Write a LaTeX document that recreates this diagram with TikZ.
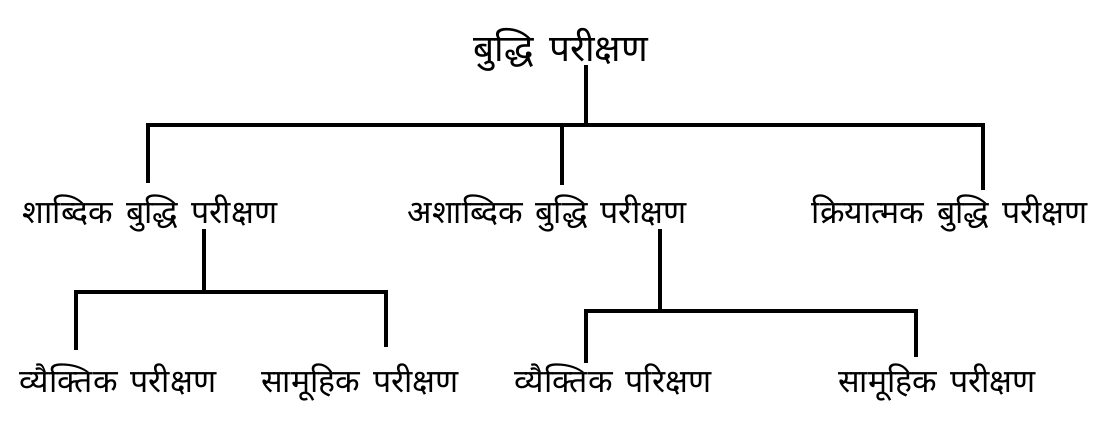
\documentclass[tikz,border=0pt]{standalone}
\usepackage{fontspec}
\newfontfamily\hindi[Script=Devanagari]{Noto Sans}
\newcommand{\rowfont}{\hindi\fontsize{32}{37}\selectfont\spaceskip 13pt\relax}
\newcommand{\topfont}{\hindi\fontsize{37}{43}\selectfont\spaceskip 15pt\relax}
\tikzset{
  lbl/.style={inner sep=2pt, anchor=base, font=\rowfont},
  toplbl/.style={lbl, font=\topfont},
  link/.style={line width=3.8pt, line join=miter}
}
\begin{document}
\begin{tikzpicture}[x=1pt, y=1pt]
  \useasboundingbox (0,0) rectangle (1112,-434);
  \node[toplbl] (root) at (561,-61) {बुद्धि परीक्षण};
  \node[lbl] (shabdik) at (150,-223) {शाब्दिक बुद्धि परीक्षण};
  \node[lbl] (ashabdik) at (547,-223) {अशाब्दिक बुद्धि परीक्षण};
  \node[lbl] (kriya) at (950,-223) {क्रियात्मक बुद्धि परीक्षण};
  \node[lbl] (vyakti1) at (118,-392) {व्यैक्तिक परीक्षण};
  \node[lbl] (samuh1) at (360,-392) {सामूहिक परीक्षण};
  \node[lbl] (vyakti2) at (613,-392) {व्यैक्तिक परिक्षण};
  \node[lbl] (samuh2) at (937,-392) {सामूहिक परीक्षण};
  \coordinate (j0) at (586,-125);
  \coordinate (j1) at (204,-292);
  \coordinate (j2) at (660,-311);
  \draw[link] ([yshift=-4pt]root.base -| j0) -- (j0);
  \draw[link] (148,-183) coordinate (d1) |- (j0) -| (983,-190) coordinate (d3);
  \draw[link] (j0 -| 562,0) -- (562,-185) coordinate (d2);
  \draw[link] ([yshift=-6pt]shabdik.base -| j1) -- (j1);
  \draw[link] (76,-350) coordinate (d4) |- (j1) -| (386,-347) coordinate (d5);
  \draw[link] ([yshift=-6pt]ashabdik.base -| j2) -- (j2);
  \draw[link] (586,-363) coordinate (d6) |- (j2) -| (916,-357) coordinate (d7);
\end{tikzpicture}
\end{document}
